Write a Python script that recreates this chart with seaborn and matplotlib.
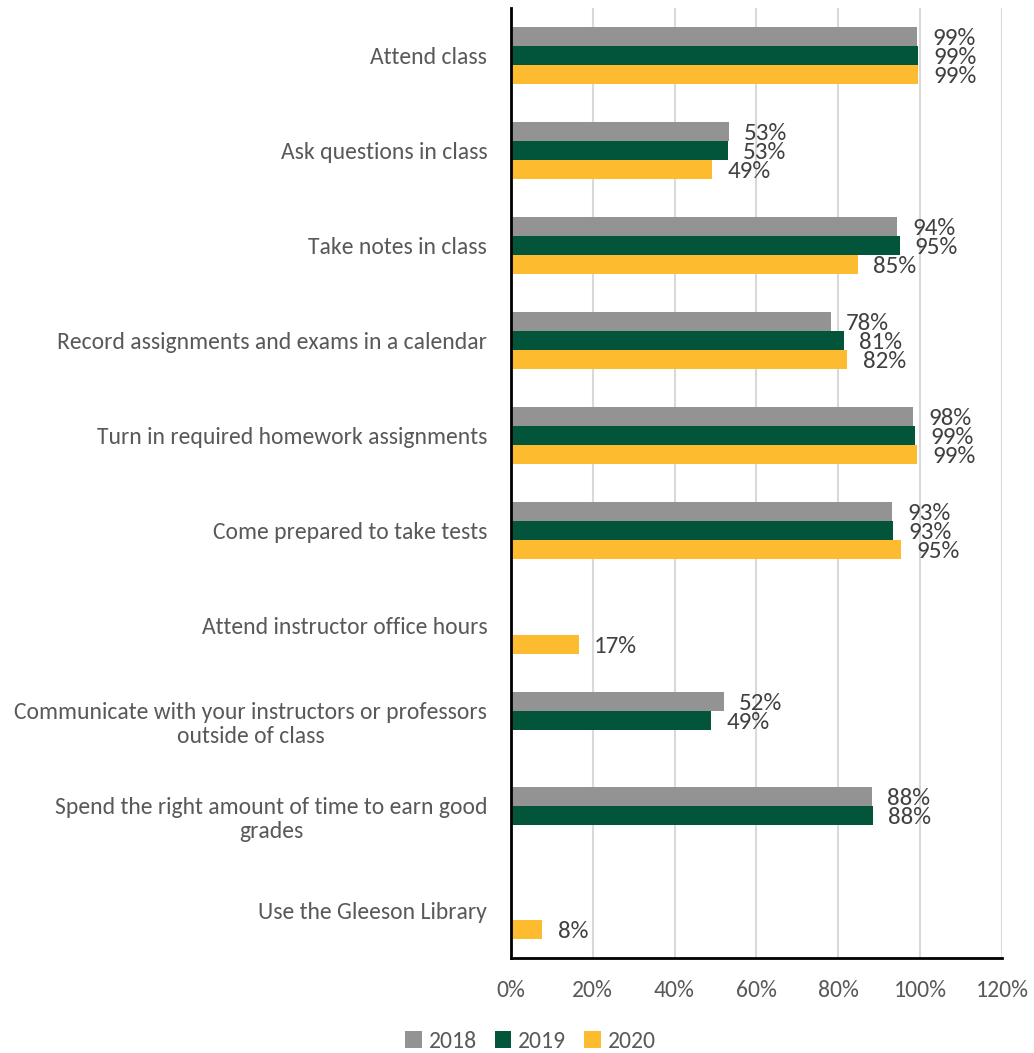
import numpy as np
import pandas as pd
import matplotlib
matplotlib.use("Agg")
import matplotlib.pyplot as plt
from matplotlib import font_manager
from matplotlib.patches import Patch
import seaborn as sns

categories = [
    "Attend class",
    "Ask questions in class",
    "Take notes in class",
    "Record assignments and exams in a calendar",
    "Turn in required homework assignments",
    "Come prepared to take tests",
    "Attend instructor office hours",
    "Communicate with your instructors or professors\noutside of class",
    "Spend the right amount of time to earn good\ngrades",
    "Use the Gleeson Library",
]
years = ["2018", "2019", "2020"]
vals_2018 = [0.993, 0.532, 0.943, 0.782, 0.983, 0.932, np.nan, 0.521, 0.882, np.nan]
vals_2019 = [0.994, 0.530, 0.950, 0.814, 0.988, 0.934, np.nan, 0.489, 0.884, np.nan]
vals_2020 = [0.994, 0.492, 0.848, 0.822, 0.992, 0.953, 0.166, np.nan, np.nan, 0.077]
colors = ["#939393", "#02553A", "#FDBB30"]
xticks = [0, 0.2, 0.4, 0.6, 0.8, 1.0, 1.2]

sns.set_theme(style="white")
avail = {f.name for f in font_manager.fontManager.ttflist}
fam = next((f for f in ["Carlito", "Lato", "Open Sans", "Liberation Sans"] if f in avail), "DejaVu Sans")
plt.rcParams["font.family"] = [fam, "DejaVu Sans"]

rows = []
for y, vals in zip(years, [vals_2018, vals_2019, vals_2020]):
    for c, v in zip(categories, vals):
        rows.append({"Category": c, "Year": y, "Value": v})
df = pd.DataFrame(rows).dropna()

fig = plt.figure(figsize=(10.34, 10.53), dpi=100)
ax = fig.add_axes([0.494, 0.0902, 0.475, 0.9022])

sns.barplot(data=df, y="Category", x="Value", hue="Year", order=categories,
            hue_order=years, palette=colors, orient="h", width=0.61,
            saturation=1, linewidth=0, errorbar=None, ax=ax)

FS = 17
for cont in ax.containers:
    texts = ax.bar_label(cont, fmt="{:.0%}", padding=11, fontsize=18, color="#404040")
    for t in texts:
        t.set_y(t.get_position()[1])
        t.set_va("center")
        t.set_position((t.get_position()[0], t.get_position()[1] - 1.5))

ax.set_xlim(0, 1.2)
ax.set_ylim(len(categories) - 0.5, -0.5)
ax.set_xticks(xticks)
ax.set_xticklabels([f"{int(round(t*100))}%" for t in xticks])
ax.tick_params(axis="x", length=0, pad=16, labelsize=FS, labelcolor="#595959")
ax.tick_params(axis="y", length=0, pad=17, labelsize=FS, labelcolor="#595959")
for lbl in ax.get_yticklabels():
    lbl.set_multialignment("center")
ax.set_xlabel("")
ax.set_ylabel("")
ax.grid(axis="x", color="#D9D9D9", linewidth=1.5)
ax.set_axisbelow(True)
for s in ["top", "right"]:
    ax.spines[s].set_visible(False)
for s in ["left", "bottom"]:
    ax.spines[s].set_color("black")
    ax.spines[s].set_linewidth(2)

ax.get_legend().remove()
handles = [Patch(facecolor=c, edgecolor="none") for c in colors]
fig.legend(handles, years, loc="center", bbox_to_anchor=(0.513, 0.011),
           ncol=3, frameon=False, fontsize=FS, labelcolor="#595959",
           handlelength=0.7, handleheight=0.7, handletextpad=0.3,
           columnspacing=0.75)

fig.savefig("out.png", dpi=100)
